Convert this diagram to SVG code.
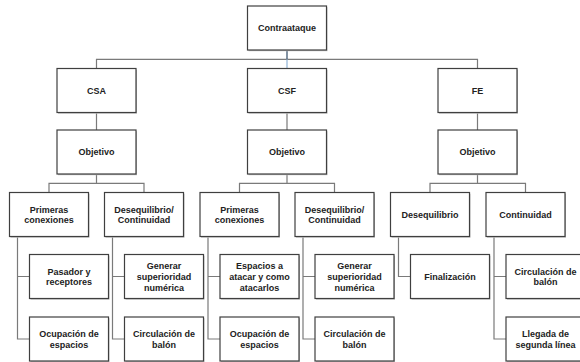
<svg xmlns="http://www.w3.org/2000/svg" width="580" height="362" viewBox="0 0 580 362">
  <style>
    .box { fill: #ffffff; stroke: #3f3f3f; stroke-width: 1.2; }
    .shadow { fill: #bdbdbd; }
    .lbl { font-family: "Liberation Sans", Arial, sans-serif; font-size: 9px; font-weight: bold; fill: #222222; text-anchor: middle; }
    .wire { fill: none; stroke: #7a7a7a; stroke-width: 1.2; }
  </style>
  <defs>
    <g id="card">
      <rect class="shadow" x="1" y="1.2" width="79" height="44"/>
      <rect class="box" x="0" y="0" width="79" height="44"/>
    </g>
  </defs>
  <rect width="580" height="362" fill="#ffffff"/>

  <!-- connectors -->
  <g id="connectors">
    <!-- root to level 2 -->
    <path class="wire" d="M96.5 68.5 V59.3 H477.5 V68.5"/>
    <path fill="none" stroke="#2f4a66" stroke-width="1.2" d="M287 50.5 V59.3"/>
    <path fill="none" stroke="#8fb3d6" stroke-width="1.2" d="M287 59.3 V68.5"/>
    <!-- level 2 to Objetivo -->
    <path class="wire" d="M96.5 112.5 V130 M287 112.5 V130 M477.5 112.5 V130"/>
    <!-- Objetivo to level 4 -->
    <path class="wire" d="M96.5 174 V183.3 M49 192.5 V183.3 H144 V192.5"/>
    <path class="wire" d="M287 174 V183.3 M239.5 192.5 V183.3 H334.5 V192.5"/>
    <path class="wire" d="M477.5 174 V183.3 M430 192.5 V183.3 H525.5 V192.5"/>
    <!-- level 4 to level 5 -->
    <path class="wire" d="M17.5 236.5 V339 H29.5 M17.5 276.5 H29.5"/>
    <path class="wire" d="M112.5 236.5 V339 H124.5 M112.5 276.5 H124.5"/>
    <path class="wire" d="M208 236.5 V339 H220 M208 276.5 H220"/>
    <path class="wire" d="M303 236.5 V339 H315 M303 276.5 H315"/>
    <path class="wire" d="M398.5 236.5 V276.5 H410.5"/>
    <path class="wire" d="M494 236.5 V339 H506 M494 276.5 H506"/>
  </g>

  <!-- level 1 -->
  <g id="contraataque"><use href="#card" x="247.5" y="6"/><text class="lbl" x="287" y="31.3">Contraataque</text></g>

  <!-- level 2 -->
  <g id="csa"><use href="#card" x="57" y="68.5"/><text class="lbl" x="96.5" y="93.8">CSA</text></g>
  <g id="csf"><use href="#card" x="247.5" y="68.5"/><text class="lbl" x="287" y="93.8">CSF</text></g>
  <g id="fe"><use href="#card" x="438" y="68.5"/><text class="lbl" x="477.5" y="93.8">FE</text></g>

  <!-- level 3 -->
  <g id="csa-objetivo"><use href="#card" x="57" y="130"/><text class="lbl" x="96.5" y="155.3">Objetivo</text></g>
  <g id="csf-objetivo"><use href="#card" x="247.5" y="130"/><text class="lbl" x="287" y="155.3">Objetivo</text></g>
  <g id="fe-objetivo"><use href="#card" x="438" y="130"/><text class="lbl" x="477.5" y="155.3">Objetivo</text></g>

  <!-- level 4 -->
  <g id="csa-primeras"><use href="#card" x="9.5" y="192.5"/>
    <text class="lbl" x="49" y="212.5">Primeras</text><text class="lbl" x="49" y="223">conexiones</text></g>
  <g id="csa-desequilibrio"><use href="#card" x="104.5" y="192.5"/>
    <text class="lbl" x="144" y="212.5">Desequilibrio/</text><text class="lbl" x="144" y="223">Continuidad</text></g>
  <g id="csf-primeras"><use href="#card" x="200" y="192.5"/>
    <text class="lbl" x="239.5" y="212.5">Primeras</text><text class="lbl" x="239.5" y="223">conexiones</text></g>
  <g id="csf-desequilibrio"><use href="#card" x="295" y="192.5"/>
    <text class="lbl" x="334.5" y="212.5">Desequilibrio/</text><text class="lbl" x="334.5" y="223">Continuidad</text></g>
  <g id="fe-desequilibrio"><use href="#card" x="390.5" y="192.5"/>
    <text class="lbl" x="430" y="217.8">Desequilibrio</text></g>
  <g id="fe-continuidad"><use href="#card" x="486" y="192.5"/>
    <text class="lbl" x="525.5" y="217.8">Continuidad</text></g>

  <!-- level 5, first row -->
  <g id="pasador"><use href="#card" x="29.5" y="254.5"/>
    <text class="lbl" x="69" y="274.5">Pasador y</text><text class="lbl" x="69" y="285">receptores</text></g>
  <g id="csa-generar"><use href="#card" x="124.5" y="254.5"/>
    <text class="lbl" x="164" y="268.8">Generar</text><text class="lbl" x="164" y="279.8">superioridad</text><text class="lbl" x="164" y="290.8">numérica</text></g>
  <g id="espacios"><use href="#card" x="220" y="254.5"/>
    <text class="lbl" x="259.5" y="268.8">Espacios a</text><text class="lbl" x="259.5" y="279.8">atacar y como</text><text class="lbl" x="259.5" y="290.8">atacarlos</text></g>
  <g id="csf-generar"><use href="#card" x="315" y="254.5"/>
    <text class="lbl" x="354.5" y="268.8">Generar</text><text class="lbl" x="354.5" y="279.8">superioridad</text><text class="lbl" x="354.5" y="290.8">numérica</text></g>
  <g id="finalizacion"><use href="#card" x="410.5" y="254.5"/>
    <text class="lbl" x="450" y="279.8">Finalización</text></g>
  <g id="fe-circulacion"><use href="#card" x="506" y="254.5"/>
    <text class="lbl" x="545.5" y="274.5">Circulación de</text><text class="lbl" x="545.5" y="285">balón</text></g>

  <!-- level 5, second row -->
  <g id="csa-ocupacion"><use href="#card" x="29.5" y="317"/>
    <text class="lbl" x="69" y="337">Ocupación de</text><text class="lbl" x="69" y="347.5">espacios</text></g>
  <g id="csa-circulacion"><use href="#card" x="124.5" y="317"/>
    <text class="lbl" x="164" y="337">Circulación de</text><text class="lbl" x="164" y="347.5">balón</text></g>
  <g id="csf-ocupacion"><use href="#card" x="220" y="317"/>
    <text class="lbl" x="259.5" y="337">Ocupación de</text><text class="lbl" x="259.5" y="347.5">espacios</text></g>
  <g id="csf-circulacion"><use href="#card" x="315" y="317"/>
    <text class="lbl" x="354.5" y="337">Circulación de</text><text class="lbl" x="354.5" y="347.5">balón</text></g>
  <g id="llegada"><use href="#card" x="506" y="317"/>
    <text class="lbl" x="545.5" y="337">Llegada de</text><text class="lbl" x="545.5" y="347.5">segunda línea</text></g>
</svg>
